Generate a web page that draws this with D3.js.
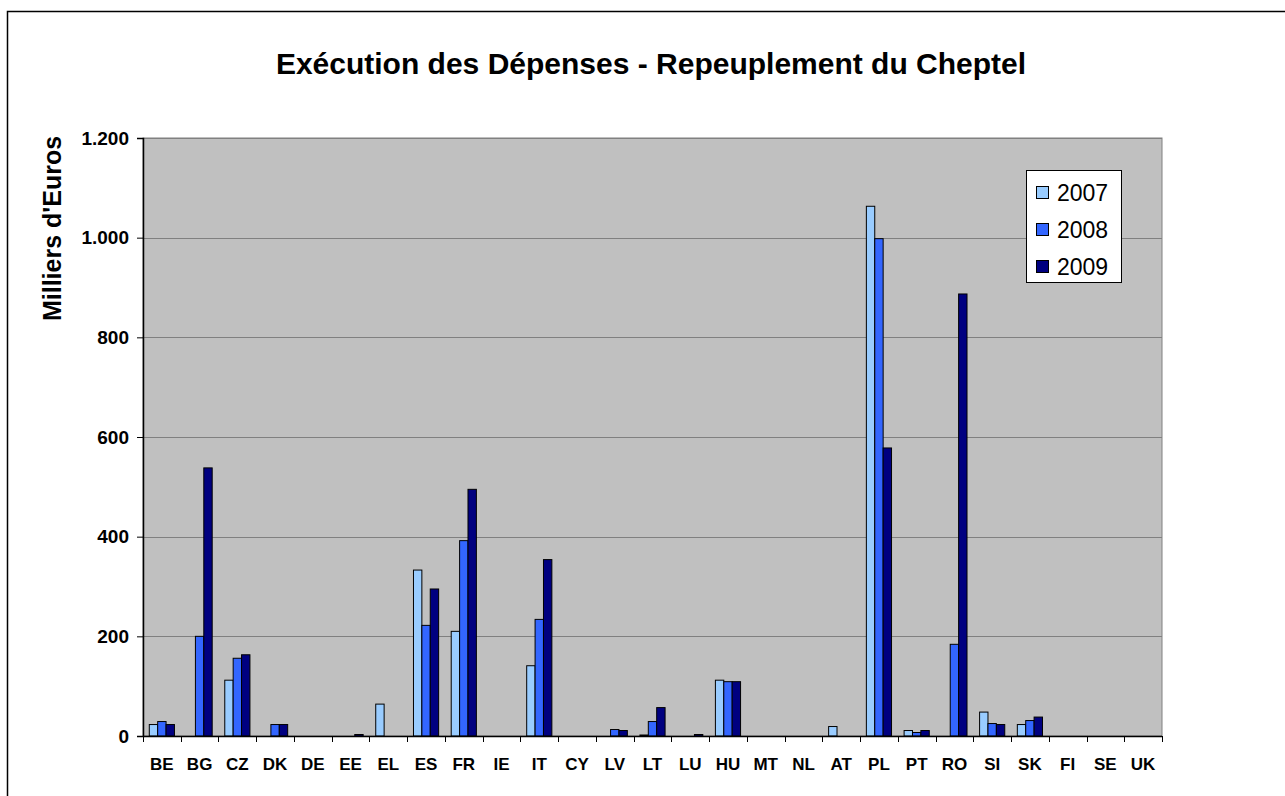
<!DOCTYPE html>
<html>
<head>
<meta charset="utf-8">
<script src="https://cdn.jsdelivr.net/npm/d3@7"></script>
<style>
  body { margin: 0; background: #fff; }
  text { font-family: "Liberation Sans", Arial, sans-serif; }
</style>
</head>
<body>
<svg id="chart" width="1285" height="796"></svg>
<script>
// data
var countries = ["BE","BG","CZ","DK","DE","EE","EL","ES","FR","IE","IT","CY","LV","LT","LU","HU","MT","NL","AT","PL","PT","RO","SI","SK","FI","SE","UK"];
var years = ["2007","2008","2009"];
var values2007 = [23,0,112,0,0,0,64,333,210,0,141,0,0,2,0,112,0,0,19,1063,11,0,48,23,0,0,0];
var values2008 = [29,200,156,23,0,0,0,222,392,0,234,0,13,29,0,109,0,0,0,998,7,184,25,31,0,0,0];
var values2009 = [23,538,163,23,0,3,0,295,495,0,354,0,11,57,3,109,0,0,0,578,11,887,23,38,0,0,0];
var yTicks = [0,200,400,600,800,1000,1200];
var colors = ["#99CCFF","#3366FF","#000080"];

var svg = d3.select("#chart");
var plot = {left: 143, top: 138, right: 1162, bottom: 736};

var series = [values2007, values2008, values2009];
var rows = countries.map(function(c, i){
   return {country: c, vals: series.map(function(s){ return s[i]; })};
});

// outer frame (right and bottom edges fall outside the picture)
svg.append("rect")
   .attr("x", 7.5).attr("y", 11.5)
   .attr("width", 1300).attr("height", 800)
   .attr("fill", "#fff").attr("stroke", "#000").attr("stroke-width", 1.5);

var x0 = d3.scaleBand()
   .domain(countries)
   .range([plot.left, plot.right])
   .paddingInner(1/3)
   .paddingOuter(1/6);
var x1 = d3.scaleBand()
   .domain(years)
   .range([0, x0.bandwidth()]);
var y = d3.scaleLinear()
   .domain([0, 1200])
   .range([plot.bottom, plot.top]);

//Plot background
svg.append("rect")
   .attr("x", plot.left).attr("y", plot.top)
   .attr("width", plot.right - plot.left).attr("height", plot.bottom - plot.top)
   .attr("fill", "#C0C0C0")
   .attr("stroke", "#808080");

//Gridlines
svg.append("g")
   .selectAll("line")
   .data(yTicks.slice(1))
   .enter()
   .append("line")
   .attr("x1", plot.left).attr("x2", plot.right)
   .attr("y1", function(d){ return Math.round(y(d)) + 0.5; })
   .attr("y2", function(d){ return Math.round(y(d)) + 0.5; })
   .attr("stroke", "#808080").attr("stroke-width", 1);

//Bars
var groups = svg.append("g")
   .selectAll("g")
   .data(rows)
   .enter()
   .append("g")
   .attr("transform", function(d){ return "translate(" + x0(d.country) + ",0)"; });

groups.selectAll("rect")
   .data(function(d){ return d.vals.map(function(v, k){ return {year: years[k], v: v, k: k}; }); })
   .enter()
   .filter(function(d){ return d.v > 0; })
   .append("rect")
   .attr("x", function(d){ return x1(d.year); })
   .attr("y", function(d){ return y(d.v); })
   .attr("width", x1.bandwidth())
   .attr("height", function(d){ return plot.bottom - y(d.v); })
   .attr("fill", function(d){ return colors[d.k]; })
   .attr("stroke", "#000").attr("stroke-width", 1);

//Y axis
var yAxis = d3.axisLeft(y)
   .tickValues(yTicks)
   .tickSize(6)
   .tickPadding(8)
   .tickFormat(function(d){ return d3.format(",")(d).replace(",", "."); });
var gy = svg.append("g")
   .attr("transform", "translate(" + plot.left + ",0)")
   .call(yAxis);
gy.select(".domain").attr("stroke", "#000").attr("stroke-width", 1.5);
gy.selectAll(".tick line").attr("stroke", "#000");
gy.selectAll("text")
   .attr("font-size", 19).attr("font-weight", "bold")
   .attr("font-family", "Liberation Sans, Arial, sans-serif")
   .attr("fill", "#000");

//X axis with ticks between categories
svg.append("line")
   .attr("x1", plot.left).attr("x2", plot.right)
   .attr("y1", plot.bottom + 0.5).attr("y2", plot.bottom + 0.5)
   .attr("stroke", "#000").attr("stroke-width", 1.5);
var step = x0.step();
svg.append("g")
   .selectAll("line")
   .data(d3.range(countries.length + 1))
   .enter()
   .append("line")
   .attr("x1", function(i){ return Math.round(plot.left + i * step) + 0.5; })
   .attr("x2", function(i){ return Math.round(plot.left + i * step) + 0.5; })
   .attr("y1", plot.bottom).attr("y2", plot.bottom + 6)
   .attr("stroke", "#000");
svg.append("g")
   .selectAll("text")
   .data(countries)
   .enter()
   .append("text")
   .attr("x", function(d){ return x0(d) + x0.bandwidth() / 2; })
   .attr("y", 770)
   .attr("text-anchor", "middle")
   .attr("font-size", 17).attr("font-weight", "bold")
   .text(function(d){ return d; });

//Title
svg.append("text")
   .attr("x", 651).attr("y", 73.5)
   .attr("text-anchor", "middle")
   .attr("font-size", 30).attr("font-weight", "bold")
   .text("Exécution des Dépenses - Repeuplement du Cheptel");

//Y axis title
svg.append("text")
   .attr("transform", "translate(61,228.5) rotate(-90)")
   .attr("text-anchor", "middle")
   .attr("font-size", 25).attr("font-weight", "bold")
   .text("Milliers d'Euros");

//Legend
var legend = svg.append("g").attr("transform", "translate(1026,170)");
legend.append("rect")
   .attr("x", 0.5).attr("y", 0.5)
   .attr("width", 95).attr("height", 112)
   .attr("fill", "#fff").attr("stroke", "#000");
var items = legend.selectAll("g.item")
   .data(years)
   .enter()
   .append("g")
   .attr("class", "item")
   .attr("transform", function(d, i){ return "translate(10," + (22 + i * 37) + ")"; });
items.append("rect")
   .attr("x", 0.5).attr("y", -5.5)
   .attr("width", 12).attr("height", 12)
   .attr("fill", function(d, i){ return colors[i]; })
   .attr("stroke", "#000");
items.append("text")
   .attr("x", 21).attr("y", 8.5)
   .attr("font-size", 23)
   .text(function(d){ return d; });
</script>
</body>
</html>
